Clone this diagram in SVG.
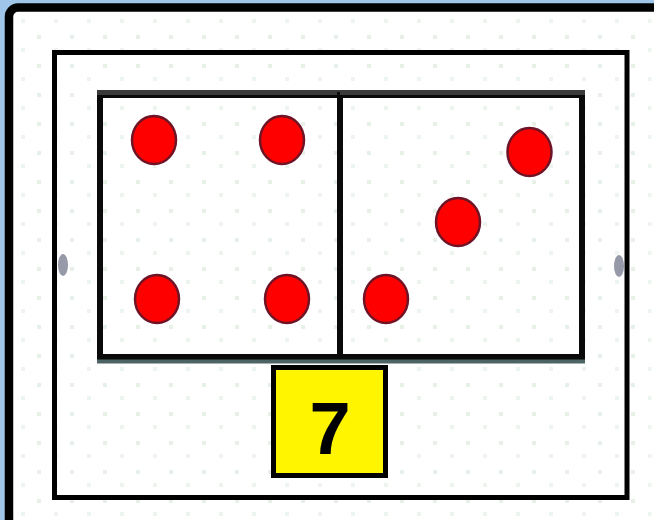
<svg xmlns="http://www.w3.org/2000/svg" width="654" height="520" viewBox="0 0 654 520">
  <style>
    .frame { fill: none; stroke: #000; }
    .die { fill: none; stroke: #0a0a0a; stroke-width: 6; }
    .pip { fill: #ff0000; stroke: #6e1426; stroke-width: 2.5; }
    .num { font-family: "Liberation Sans", Arial, sans-serif; font-weight: bold; font-size: 74px; fill: #000; }
    .port { fill: #6a6e82; opacity: 0.7; }
  </style>
  <defs>
    <pattern id="speck" width="33" height="29" patternUnits="userSpaceOnUse">
      <rect x="4" y="6" width="4" height="4" fill="#e8f1e8"/>
      <rect x="21" y="19" width="4" height="4" fill="#eef4ee"/>
    </pattern>
  </defs>
  <rect x="0" y="0" width="654" height="520" fill="#9fc5e8"/>
  <g id="outer-frame">
    <rect x="9" y="7.5" width="660" height="530" rx="9" fill="#ffffff" stroke="#000" stroke-width="8.5"/>
    <rect x="13.5" y="12" width="638" height="504" fill="url(#speck)"/>
  </g>
  <g id="inner-frame">
    <rect class="frame" x="54.5" y="52.5" width="572.5" height="445" stroke-width="5"/>
    <ellipse class="port" cx="63" cy="265" rx="5" ry="11"/>
    <ellipse class="port" cx="619" cy="266" rx="5" ry="11"/>
  </g>
  <g id="die-left">
    <rect x="100" y="95" width="240" height="262" fill="#ffffff"/>
    <rect x="100" y="95" width="240" height="262" fill="url(#speck)"/>
    <rect class="die" x="100" y="95" width="240" height="262"/>
    <line x1="97" y1="92.5" x2="340" y2="92.5" stroke="#3a3a3a" stroke-width="5"/>
    <ellipse class="pip" cx="154" cy="140" rx="22" ry="24"/>
    <ellipse class="pip" cx="282" cy="140" rx="22" ry="24"/>
    <ellipse class="pip" cx="157" cy="299" rx="22" ry="24"/>
    <ellipse class="pip" cx="287" cy="299" rx="22" ry="24"/>
  </g>
  <g id="die-right">
    <rect x="340" y="95" width="242" height="262" fill="#ffffff"/>
    <rect x="340" y="95" width="242" height="262" fill="url(#speck)"/>
    <rect class="die" x="340" y="95" width="242" height="262"/>
    <line x1="340" y1="92.5" x2="585" y2="92.5" stroke="#3a3a3a" stroke-width="5"/>
    <ellipse class="pip" cx="529.5" cy="152" rx="22" ry="24"/>
    <ellipse class="pip" cx="458" cy="222" rx="22" ry="24"/>
    <ellipse class="pip" cx="386" cy="299" rx="22" ry="24"/>
  </g>
  <line x1="97" y1="361.5" x2="585" y2="361.5" stroke="#4e6464" stroke-width="4"/>
  <g id="sum-label">
    <rect x="273.5" y="367.5" width="112" height="108" fill="#fff500" stroke="#000" stroke-width="5"/>
    <text class="num" x="330" y="454" text-anchor="middle">7</text>
  </g>
  <g id="connectors"></g>
</svg>
